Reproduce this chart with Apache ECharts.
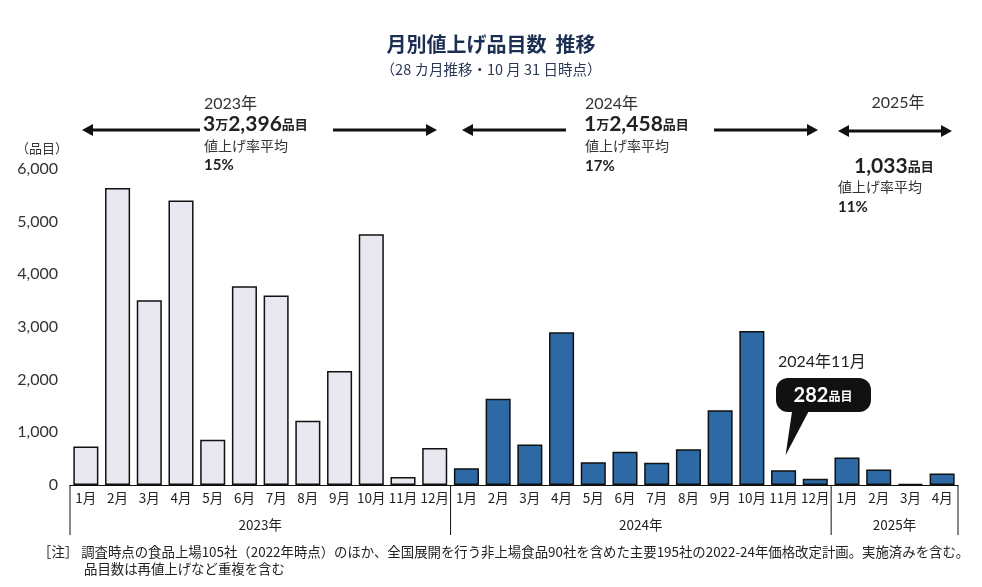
<!DOCTYPE html>
<html><head><meta charset="utf-8">
<script src="https://cdn.jsdelivr.net/npm/echarts@6/dist/echarts.min.js"></script>
<style>html,body{margin:0;padding:0;background:#fff}#c{width:982px;height:587px}</style>
</head><body><div id="c"></div>
<script>
const months = ['1月','2月','3月','4月','5月','6月','7月','8月','9月','10月','11月','12月','1月','2月','3月','4月','5月','6月','7月','8月','9月','10月','11月','12月','1月','2月','3月','4月'];
const years = ['2023年','2024年','2025年'];
const yearCounts = [12, 12, 4];
const values2023 = [730, 5640, 3510, 5400, 860, 3776, 3600, 1220, 2163, 4763, 150, 702];
const values2024 = [319, 1636, 768, 2900, 433, 630, 421, 680, 1420, 2926, 282, 118];
const values2025 = [520, 295, 18, 220];
const yTicks = [0, 1000, 2000, 3000, 4000, 5000, 6000];
const values = values2023.concat(values2024, values2025);

const FONT = '"Noto Sans CJK JP", "Noto Sans", sans-serif';
const NUM = 'Lato, "Noto Sans CJK JP", sans-serif';
const chart = echarts.init(document.getElementById('c'));

function arrowHead(x, y, dir) {
  return {type:'polygon', shape:{points:[[x,y],[x-dir*11,y-6],[x-dir*11,y+6]]}, style:{fill:'#111'}, silent:true};
}
function arrow(x1, x2, y, left, right) {
  const g = [{type:'line', shape:{x1:x1+(left?8:0), y1:y, x2:x2-(right?8:0), y2:y}, style:{stroke:'#111', lineWidth:3}, silent:true}];
  if (left) g.push(arrowHead(x1, y, -1));
  if (right) g.push(arrowHead(x2, y, 1));
  return g;
}
function txt(x, y, text, opts) {
  return Object.assign({type:'text', x:x, y:y, silent:true, style:Object.assign({text:text, font:'14px ' + FONT, fill:'#333', textVerticalAlign:'middle'}, opts||{})});
}
const rich = {
  big:{fontSize:21, fontWeight:'bold', fontFamily:NUM, fill:'#222'},
  sm:{fontSize:13, fontWeight:'bold', fontFamily:FONT, fill:'#222'}
};

chart.setOption({
  animation:false,
  title:[
    {text:'月別値上げ品目数  推移', left:'center', top:29, textStyle:{fontFamily:FONT, fontSize:20, fontWeight:'bold', color:'#1c2f52'}},
    {text:'（28 カ月推移・10 月 31 日時点）', left:'center', top:57, textStyle:{fontFamily:FONT, fontSize:14.5, fontWeight:'normal', color:'#2a3856'}}
  ],
  grid:{left:70, right:24, top:169, bottom:102},
  xAxis:{type:'category', data:months,
    axisLine:{show:true, lineStyle:{color:'#111', width:1}},
    axisTick:{show:false},
    axisLabel:{interval:0, margin:6, fontFamily:FONT, fontSize:13.5, color:'#222'}},
  yAxis:{type:'value', min:0, max:6000, interval:1000,
    axisLine:{show:false}, axisTick:{show:false}, splitLine:{show:false},
    name:'（品目）', nameLocation:'end', nameGap:14, nameTextStyle:{fontFamily:FONT, fontSize:13, color:'#333', align:'right', padding:[0,2,0,0]},
    axisLabel:{margin:12, fontFamily:NUM, fontSize:16, color:'#333',
      formatter:v => yTicks.indexOf(v) >= 0 ? v.toLocaleString('en-US') : ''}},
  series:[{type:'bar', data:values, barCategoryGap:'21%',
    itemStyle:{borderColor:'#111', borderWidth:1.5,
      color:p => p.dataIndex < yearCounts[0] ? '#e9e7ef' : '#2d6aa5'}}]
});

// Year separators and labels through the axis scale
const g = [];
const c0 = chart.convertToPixel({xAxisIndex:0}, 0);
const c1 = chart.convertToPixel({xAxisIndex:0}, 1);
const band = c1 - c0;
const y0 = chart.convertToPixel({yAxisIndex:0}, 0);
let idx = 0;
const bounds = [c0 - band/2];
yearCounts.forEach((n, i) => {
  const left = chart.convertToPixel({xAxisIndex:0}, idx) - band/2;
  const right = chart.convertToPixel({xAxisIndex:0}, idx + n - 1) + band/2;
  bounds.push(right);
  g.push(txt((left+right)/2, y0 + 40, years[i], {textAlign:'center', font:'13.5px ' + FONT, fill:'#222'}));
  idx += n;
});
bounds.forEach(x => g.push({type:'line', shape:{x1:x, y1:y0, x2:x, y2:y0+50}, style:{stroke:'#111', lineWidth:1}, silent:true}));

// Top annotations
g.push(...arrow(82, 200, 130, true, false));
g.push(...arrow(333, 437, 130, false, true));
g.push(txt(204, 104, '2023年', {font:'16px ' + NUM}));
g.push(txt(203, 124, '{big|3}{sm|万}{big|2,396}{sm|品目}', {rich:rich}));
g.push(txt(204, 146, '値上げ率平均', {font:'14px ' + FONT}));
g.push(txt(204, 165, '15%', {font:'bold 15px ' + NUM, fill:'#222'}));

g.push(...arrow(462, 566, 130, true, false));
g.push(...arrow(714, 818, 130, false, true));
g.push(txt(585, 104, '2024年', {font:'16px ' + NUM}));
g.push(txt(584, 124, '{big|1}{sm|万}{big|2,458}{sm|品目}', {rich:rich}));
g.push(txt(585, 146, '値上げ率平均', {font:'14px ' + FONT}));
g.push(txt(585, 166, '17%', {font:'bold 15px ' + NUM, fill:'#222'}));

g.push(...arrow(838, 952, 131, true, true));
g.push(txt(898, 103, '2025年', {font:'16px ' + NUM, textAlign:'center'}));
g.push(txt(854, 166, '{big|1,033}{sm|品目}', {rich:rich}));
g.push(txt(838, 187, '値上げ率平均', {font:'14px ' + FONT}));
g.push(txt(838, 207, '11%', {font:'bold 15px ' + NUM, fill:'#222'}));

// Callout for 2024年11月
const ci = yearCounts[0] + 10;
const tip = chart.convertToPixel({seriesIndex:0}, [ci, values[ci]]);
const tx = tip[0] + 2, ty = tip[1] - 15;
g.push(txt(778, 362, '2024年11月', {font:'16px ' + NUM, fill:'#222'}));
g.push({type:'polygon', shape:{points:[[tx, ty],[793, 405],[812, 405]]}, style:{fill:'#111'}, silent:true});
g.push({type:'rect', shape:{x:776, y:378, width:95, height:34, r:12}, style:{fill:'#111'}, silent:true});
g.push(txt(823, 396, '{a|282}{b|品目}', {textAlign:'center', fill:'#fff', rich:{a:{fontSize:20, fontWeight:'bold', fontFamily:NUM, fill:'#fff'}, b:{fontSize:12, fontWeight:'bold', fontFamily:FONT, fill:'#fff'}}}));

// Footnote
g.push(txt(38, 552, '［注］ 調査時点の食品上場105社（2022年時点）のほか、全国展開を行う非上場食品90社を含めた主要195社の2022-24年価格改定計画。実施済みを含む。', {font:'13.4px ' + FONT, fill:'#222'}));
g.push(txt(84, 569, '品目数は再値上げなど重複を含む', {font:'13.4px ' + FONT, fill:'#222'}));

chart.setOption({graphic:{elements:g}});
</script></body></html>
